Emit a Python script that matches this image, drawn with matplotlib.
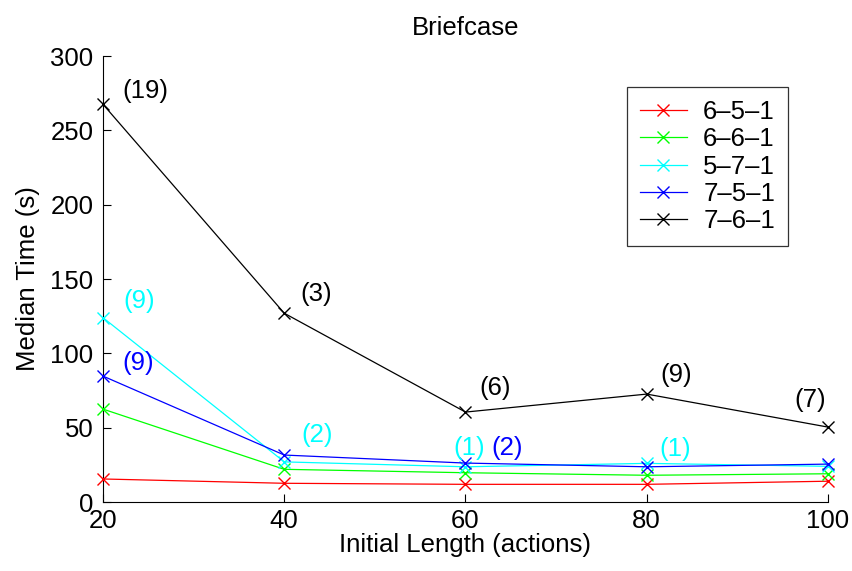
import matplotlib
matplotlib.use("Agg")
import matplotlib.pyplot as plt

plt.rcParams["font.family"] = ["Liberation Sans", "DejaVu Sans"]

# initial plan length (actions)
lengths = [20, 40, 60, 80, 100]

# median time (s) per network configuration
t_651 = [15.5, 12.6, 11.9, 11.9, 14.0]
t_661 = [62.5, 22.0, 19.7, 18.0, 19.0]
t_571 = [124.0, 27.0, 23.7, 26.0, 24.0]
t_751 = [84.7, 31.6, 26.2, 23.7, 25.5]
t_761 = [267.5, 127.0, 60.5, 72.6, 50.4]

series = [
    ("6\u20135\u20131", t_651, "#ff0000"),
    ("6\u20136\u20131", t_661, "#00ff00"),
    ("5\u20137\u20131", t_571, "#00ffff"),
    ("7\u20135\u20131", t_751, "#0000ff"),
    ("7\u20136\u20131", t_761, "#000000"),
]

# failure counts shown next to points: (point index, text)
notes_761 = [(0, "(19)"), (1, "(3)"), (2, "(6)"), (3, "(9)"), (4, "(7)")]
notes_571 = [(0, "(9)"), (1, "(2)"), (2, "(1)"), (3, "(1)")]
notes_751 = [(0, "(9)"), (2, "(2)")]

fig = plt.figure(figsize=(8.52, 5.71), dpi=100)
ax = fig.add_axes([0.1209, 0.1208, 0.8509, 0.7811])

for label, y, c in series:
    ax.plot(lengths, y, color=c, lw=0.9, marker="x", ms=9, mew=1.0,
            label=label, clip_on=False, zorder=3)

fs = 18.5
# text offsets in points (left edge, vertical centre) from each marked point
off_761 = [(13.7, 9.4), (11.5, 13.7), (10, 17.3), (10, 13.7), (-24.5, 19.4)]
off_571 = [(14.4, 12.2), (12.2, 19.4), (-8.6, 13.7), (9, 10)]
off_751 = [(13.7, 9.4), (18.7, 10.8)]
groups = [(notes_761, off_761, t_761, "black"),
          (notes_571, off_571, t_571, "#00ffff"),
          (notes_751, off_751, t_751, "#0000ff")]
for notes, offs, vals, col in groups:
    for (i, txt), off in zip(notes, offs):
        ax.annotate(txt, (lengths[i], vals[i]), xytext=off, textcoords="offset points",
                    fontsize=fs, color=col, va="center", ha="left")

ax.set_xlim(20, 100)
ax.set_ylim(0, 300)
ax.set_xticks(lengths)
ax.set_yticks(range(0, 301, 50))
ax.tick_params(labelsize=fs, direction="in", length=6, width=0.8, top=False, right=False)
ax.tick_params(axis="x", pad=5)
ax.tick_params(axis="y", pad=7)
for sp in ("top", "right"):
    ax.spines[sp].set_visible(False)
ax.set_xlabel("Initial Length (actions)", fontsize=fs, labelpad=0)
ax.set_ylabel("Median Time (s)", fontsize=fs, labelpad=7)
ax.set_title("Briefcase", fontsize=fs, pad=15)

leg = ax.legend(loc="upper right", bbox_to_anchor=(0.9448, 0.9305), borderaxespad=0,
                fontsize=fs, frameon=True, fancybox=False, edgecolor="black",
                handlelength=1.8, handletextpad=0.65, borderpad=0.5, labelspacing=0.13)
leg.get_frame().set_linewidth(0.9)

fig.savefig("out.png", dpi=100)
